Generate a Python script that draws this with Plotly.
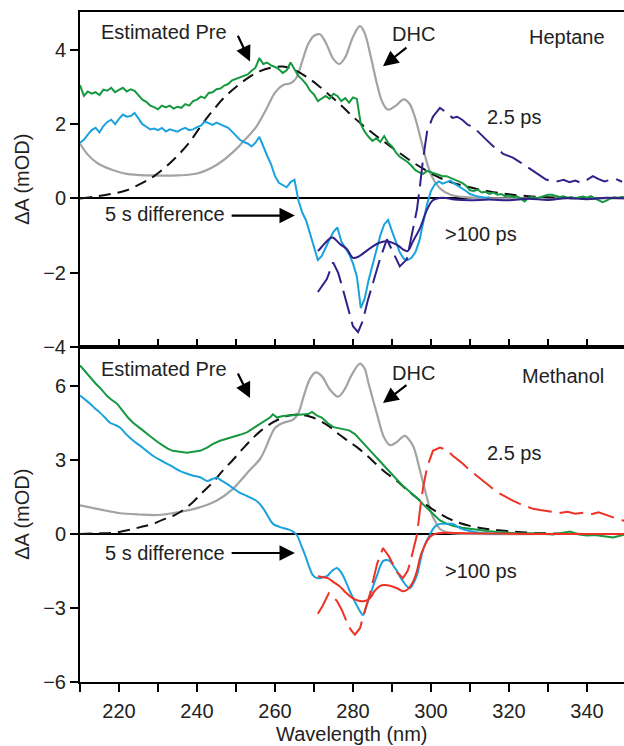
import plotly.graph_objects as go

# ---------------- Heptane (upper panel) ----------------
# noisy steady-state spectra on a 1 nm grid
green_hep_wl = list(range(210, 351))
green_hep = [
    3.05, 2.76, 2.88, 2.82, 2.86, 2.78, 2.93, 2.90, 2.98, 2.86,
    2.92, 2.98, 2.88, 2.94, 2.90, 2.78, 2.66, 2.60, 2.50, 2.46,
    2.40, 2.50, 2.45, 2.50, 2.42, 2.47, 2.44, 2.54, 2.50, 2.62,
    2.66, 2.74, 2.70, 2.84, 2.86, 2.94, 2.96, 3.04, 3.08, 3.18,
    3.22, 3.28, 3.30, 3.34, 3.44, 3.52, 3.78, 3.62, 3.66, 3.58,
    3.54, 3.48, 3.38, 3.45, 3.66, 3.48, 3.30, 3.20, 3.08, 2.90,
    2.80, 2.62, 2.70, 2.76, 2.68, 2.82, 2.76, 2.62, 2.70, 2.58,
    2.72, 2.68, 2.00, 1.80, 1.66, 1.55, 1.62, 1.52, 1.68, 1.50,
    1.40, 1.24, 1.12, 1.06, 0.98, 0.88, 0.76, 0.70, 0.66, 0.74,
    0.70, 0.68, 0.64, 0.60, 0.60, 0.55, 0.52, 0.46, 0.42, 0.34,
    0.22, 0.20, 0.24, 0.16, 0.18, 0.12, 0.16, 0.10, 0.12, 0.06,
    0.08, 0.04, 0.06, 0.00, -0.08, 0.02, 0.04, 0.00, 0.04, 0.06,
    0.10, 0.10, 0.06, 0.04, 0.06, 0.02, 0.04, 0.00, 0.03, 0.05,
    0.02, 0.06, 0.00, -0.04, -0.10, -0.06, 0.00, 0.03, 0.02, 0.04, 0.02,
]

diff_hep_wl = list(range(210, 316))
diff_hep = [
    1.50, 1.58, 1.72, 1.84, 1.90, 1.78, 1.95, 2.06, 2.12, 2.00,
    2.14, 2.26, 2.20, 2.22, 2.30, 2.14, 2.00, 1.93, 1.86, 1.88,
    1.84, 1.90, 1.80, 1.86, 1.84, 1.80, 1.86, 1.90, 1.84, 1.86,
    1.92, 1.96, 2.07, 2.02, 1.98, 2.04, 2.00, 1.95, 1.90, 1.80,
    1.70, 1.58, 1.52, 1.48, 1.40, 1.50, 1.66, 1.38, 1.15, 0.92,
    0.60, 0.42, 0.36, 0.30, 0.44, 0.50, -0.05, -0.38, -0.60, -0.95,
    -1.35, -1.66, -1.55, -1.30, -1.10, -0.90, -0.78, -1.15, -1.32, -1.50,
    -1.75, -2.10, -2.95, -2.70, -2.20, -1.80, -1.45, -1.00, -0.70, -0.58,
    -0.88, -1.15, -1.45, -1.62, -1.66, -1.60, -1.45, -1.15, -0.60, -0.15,
    0.20, 0.38, 0.46, 0.40, 0.44, 0.48, 0.40, 0.34, 0.26, 0.20,
    0.12, 0.08, 0.05, 0.04, 0.02, 0.03,
]

dhc_hep_wl = [210, 212, 214.6, 218, 222, 228, 235, 240, 245, 250, 252, 255, 258,
              260, 262, 264, 265.5, 267, 268.5, 270, 271.5, 273, 275, 276.5, 278,
              280, 281.8, 283, 284.5, 286, 287.5, 289, 291, 293, 294.5, 296, 297.5,
              299, 300, 301, 302.5, 305, 308, 312, 320, 335, 350]
dhc_hep = [1.48, 1.18, 0.94, 0.78, 0.66, 0.62, 0.62, 0.67, 0.90, 1.32, 1.55, 1.90, 2.45,
           2.85, 3.05, 3.10, 3.25, 3.70, 4.15, 4.38, 4.42, 4.20, 3.75, 3.62, 3.80,
           4.35, 4.64, 4.45, 3.85, 3.15, 2.60, 2.39, 2.50, 2.67, 2.55, 2.15, 1.55,
           0.95, 0.65, 0.45, 0.25, 0.10, 0.04, 0.01, 0.0, 0.0, 0.0]

pre_hep_wl = [210, 214, 218, 222, 226, 229, 232, 235, 238, 241, 244, 247, 250, 253,
              256, 259, 262, 265, 268, 271, 274, 277, 280, 283, 286, 289, 292, 295,
              298, 301, 304, 308, 312, 316, 320, 325, 330, 335, 340]
pre_hep = [0.0, 0.05, 0.12, 0.22, 0.42, 0.60, 0.85, 1.15, 1.50, 1.95, 2.36, 2.72, 3.0, 3.24,
           3.42, 3.52, 3.55, 3.46, 3.28, 3.05, 2.78, 2.5, 2.2, 1.93, 1.68, 1.45, 1.22, 1.0,
           0.8, 0.62, 0.48, 0.35, 0.25, 0.17, 0.11, 0.06, 0.03, 0.01, 0.0]

late_hep_wl = [271, 272, 273.3, 274.7, 276.7, 278.5, 280, 281.5, 284, 286.6, 288.5,
               291.3, 292.8, 294, 295.4, 297.2, 299, 300.5, 303, 306, 310, 315, 320,
               325, 330, 335, 340, 345, 350]
late_hep = [-1.42, -1.3, -1.15, -1.05, -1.23, -1.37, -1.6, -1.56, -1.37, -1.2, -1.15,
            -1.25, -1.37, -1.42, -1.15, -0.8, -0.3, -0.05, 0.02, -0.03, -0.05, -0.03,
            -0.05, -0.01, -0.04, 0.01, -0.02, 0.02, 0.0]

early_hep_wl = [271, 273.3, 274.9, 276.2, 277.4, 278.8, 280, 281.3, 282.5, 283.8, 285.1,
                286.9, 288.7, 290.3, 292, 293.8, 295.4, 296.4, 297.2, 297.9, 299, 300.5,
                302.3, 304, 305.5, 306.7, 308, 309.5, 310.8, 312, 313.3, 314.5, 316,
                317.5, 318.5, 320, 321, 322.5, 323.5, 325, 326.5, 328, 329.5, 331,
                332.5, 334, 335.5, 337, 338.5, 340, 341.5, 343, 344.5, 346, 347.5, 349]
early_hep = [-2.52, -2.17, -1.72, -2.0, -2.44, -3.0, -3.44, -3.6, -3.3, -2.75, -2.26,
             -1.64, -1.1, -1.45, -1.83, -1.64, -0.75, -0.3, 0.35, 1.0, 1.8, 2.2,
             2.44, 2.31, 2.17, 2.2, 2.12, 1.98, 1.93, 1.8, 1.66, 1.55, 1.4,
             1.3, 1.2, 1.15, 1.1, 1.0, 0.93, 0.82, 0.72, 0.6, 0.51, 0.47,
             0.46, 0.5, 0.44, 0.48, 0.42, 0.5, 0.6, 0.52, 0.46, 0.5, 0.52, 0.45]

# ---------------- Methanol (lower panel) ----------------
green_met_wl = [210, 211.5, 212.6, 214, 215.1, 216.9, 218, 219.5, 221, 222.3, 223.6, 225,
                226.2, 227.5, 228.7, 230, 231.3, 232.5, 233.8, 235.5, 237.4, 239, 240.8,
                242.6, 244, 245.9, 247.5, 249.2, 251, 252.8, 254.5, 256.2, 257.5, 258.7,
                259.5, 260.5, 262, 263.8, 265.5, 267.2, 268.5, 269.5, 270.8, 272, 273.5,
                275, 277.4, 279, 280.5, 282, 283.5, 285, 286.5, 288, 289.5, 291, 292.8,
                294.5, 296.4, 298, 299.7, 301, 302.3, 304, 305.6, 308, 310, 312, 314.4,
                317, 320, 322.8, 326, 329, 331.3, 333.5, 335.6, 338, 340, 342, 344,
                346.7, 349.5]
green_met = [6.83, 6.55, 6.34, 6.1, 5.93, 5.6, 5.45, 5.28, 4.98, 4.72, 4.51, 4.35,
             4.19, 4.02, 3.86, 3.72, 3.58, 3.46, 3.37, 3.32, 3.29, 3.33, 3.37,
             3.5, 3.64, 3.78, 3.85, 3.92, 4.02, 4.12, 4.3, 4.45, 4.6, 4.72,
             4.85, 4.72, 4.78, 4.8, 4.82, 4.84, 4.86, 4.95, 4.8, 4.72, 4.5,
             4.33, 4.25, 4.2, 4.05, 3.78, 3.55, 3.28, 3.02, 2.75, 2.5, 2.25, 1.95,
             1.72, 1.46, 1.2, 0.95, 0.72, 0.55, 0.42, 0.33, 0.25, 0.2, 0.15, 0.12,
             0.08, 0.04, 0.02, 0.03, 0.0, -0.02, 0.04, 0.1, -0.02, -0.06, -0.04, -0.08,
             -0.14, -0.03]

diff_met_wl = [210, 211.3, 212.6, 213.8, 215.1, 216.4, 217.7, 219, 220.3, 221.5, 222.8,
               224, 225.4, 227, 228.7, 230.5, 232.3, 234, 235.6, 237.3, 239, 240.8,
               242.6, 243.8, 245.1, 246.4, 247.7, 249.3, 251, 252.7, 254.4, 255.6,
               256.9, 258.2, 259.5, 261.3, 263.1, 264.4, 265.6, 266.7, 267.7, 268.7,
               269.7, 270.6, 271.5, 272.4, 273.3, 274.6, 275.9, 276.7, 277.4, 278.3,
               279.2, 280.5, 281.8, 282.6, 283.5, 284.4, 285.3, 286.2, 287, 287.7,
               288.6, 289.5, 290.4, 291.3, 292, 292.8, 293.7, 294.6, 295.5, 296.4,
               297.2, 297.9, 298.8, 299.7, 300.5, 301.4, 302.3, 303.2, 304.1, 305.6,
               306.5, 307.4, 308.7, 310, 312, 314, 318]
diff_met = [5.61, 5.45, 5.28, 5.1, 4.92, 4.72, 4.51, 4.42, 4.31, 4.1, 3.9,
            3.74, 3.58, 3.38, 3.17, 3.0, 2.85, 2.7, 2.56, 2.45, 2.36, 2.3,
            2.15, 2.22, 2.28, 2.15, 2.03, 1.85, 1.67, 1.55, 1.42, 1.3,
            1.06, 0.72, 0.41, 0.28, 0.2, 0.12, -0.04, -0.45, -0.85, -1.3,
            -1.67, -1.78, -1.79, -1.74, -1.71, -1.5, -1.38, -1.5, -1.67, -1.98,
            -2.32, -2.75, -3.13, -3.29, -2.9, -2.48, -2.05, -1.67, -1.3, -1.1,
            -1.05, -1.1, -1.3, -1.5, -1.72, -1.91, -2.1, -2.2, -2.0, -1.67,
            -1.15, -0.69, -0.3, -0.04, 0.2, 0.35, 0.41, 0.42, 0.41, 0.41,
            0.33, 0.24, 0.17, 0.12, 0.06, 0.03, 0.01]

dhc_met_wl = [210, 215, 220, 225, 230, 235, 240, 245, 249, 253.6, 256.2, 257.5, 258.7,
              260, 262, 264.6, 266, 267.2, 269, 270.5, 272, 274.1, 276.2, 278, 279.5,
              281.8, 283, 284, 286.2, 288, 289.5, 291, 293.3, 294.5, 295.6, 297.2, 299,
              300.2, 301.5, 302.3, 304, 306, 310, 330, 350]
dhc_met = [1.16, 1.0, 0.85, 0.79, 0.77, 0.88, 1.05, 1.35, 1.8, 2.6, 3.05, 3.45, 3.9,
           4.3, 4.5, 4.63, 4.9, 5.5, 6.3, 6.55, 6.4, 5.85, 5.57, 5.9, 6.4,
           6.91, 6.7, 6.1, 4.84, 3.9, 3.6, 3.7, 3.98, 3.8, 3.5, 2.56, 1.46,
           0.8, 0.4, 0.2, 0.07, 0.02, 0.0, 0.0, 0.0]

pre_met_wl = [210, 214, 218, 220, 223.6, 226, 228.7, 231, 233.8, 236, 239, 241.5, 244.1,
              246.5, 249.2, 252, 254.4, 256.5, 258.7, 261, 263.1, 265, 266.4, 268,
              269.7, 272, 274, 275.9, 278.5, 281, 283.6, 286.2, 288.7, 291.3, 293.8,
              296.4, 299.7, 302.3, 305.6, 310, 314.4, 319.5, 325.4, 331.3, 340]
pre_met = [0.0, 0.02, 0.04, 0.08, 0.2, 0.3, 0.41, 0.56, 0.73, 0.92, 1.3, 1.7, 2.1,
           2.55, 3.0, 3.5, 3.9, 4.2, 4.45, 4.65, 4.78, 4.83, 4.84, 4.8,
           4.72, 4.55, 4.35, 4.1, 3.8, 3.52, 3.18, 2.8, 2.45, 2.15, 1.8,
           1.46, 1.08, 0.82, 0.55, 0.33, 0.2, 0.12, 0.05, 0.02, 0.0]

late_met_wl = [271, 272.3, 273.5, 275, 276.5, 278, 279.2, 280.5, 281.8, 283, 284.4,
               285.5, 286.9, 288, 289.5, 291.3, 292.8, 294, 295.2, 296.4, 297.2, 298,
               299, 299.7, 300.5, 301.5, 302.3, 304, 306, 310, 315, 320, 330, 340, 350]
late_met = [-1.71, -1.75, -1.79, -1.95, -2.11, -2.35, -2.52, -2.65, -2.72, -2.72, -2.6,
            -2.32, -2.11, -2.07, -2.1, -2.2, -2.32, -2.25, -2.0, -1.5, -0.95, -0.6,
            -0.28, -0.12, -0.03, 0.02, 0.04, 0.05, 0.04, 0.03, 0.02, 0.01, 0.0, 0.0, 0.0]

early_met_wl = [271, 272.3, 273.8, 275, 275.9, 277.2, 278.5, 279.5, 280.5, 281.8, 283,
                284.4, 286.2, 287.7, 289.2, 290.3, 291.3, 292.8, 294, 294.6, 295.5,
                296.4, 297.2, 298, 299, 300.5, 302.3, 304.1, 305.6, 307, 308.2, 309.5,
                310.8, 312, 313.3, 314.6, 315.9, 317.5, 319.5, 321, 322.8, 324.5,
                326.2, 328, 329.7, 331.3, 333, 335, 337, 339, 341, 343, 345, 347, 349, 350]
early_met = [-3.23, -2.89, -2.4, -2.55, -2.72, -3.1, -3.6, -3.9, -4.08, -3.82, -3.13,
             -2.4, -1.2, -0.57, -0.9, -1.25, -1.55, -1.79, -1.5, -1.2, -0.6,
             -0.04, 1.0, 1.9, 2.7, 3.37, 3.5, 3.41, 3.17, 3.0, 2.85, 2.65,
             2.48, 2.32, 2.15, 2.0, 1.83, 1.65, 1.46, 1.35, 1.22, 1.12,
             1.02, 0.97, 0.93, 0.88, 0.85, 0.9, 0.82, 0.86, 0.8, 0.88, 0.76, 0.66, 0.56, 0.5]

x_ticks = list(range(210, 351, 10))
x_ticktext = [str(v) if v % 20 == 0 else "" for v in x_ticks]

GREEN = "#16983f"
BLUE = "#1aa2dc"
GRAY = "#a3a3a3"
PURPLE = "#30208a"
RED = "#ee3225"
FONT = "Arial, Liberation Sans, sans-serif"

fig = go.Figure()


def add(xs, ys, color, xa, ya, dash=None, width=2.0, shape="linear"):
    fig.add_trace(go.Scatter(
        x=xs, y=ys, mode="lines", xaxis=xa, yaxis=ya,
        line=dict(color=color, width=width, dash=dash, shape=shape),
        hoverinfo="skip"))


# upper panel traces
add(dhc_hep_wl, dhc_hep, GRAY, "x2", "y2", width=2.2, shape="spline")
add(pre_hep_wl, pre_hep, "#111111", "x2", "y2", dash="12px,7px", shape="spline")
add(green_hep_wl, green_hep, GREEN, "x2", "y2")
add(diff_hep_wl, diff_hep, BLUE, "x2", "y2")
add(late_hep_wl, late_hep, PURPLE, "x2", "y2", shape="spline")
add(early_hep_wl, early_hep, PURPLE, "x2", "y2", dash="24px,8px")

# lower panel traces
add(dhc_met_wl, dhc_met, GRAY, "x", "y", width=2.2, shape="spline")
add(pre_met_wl, pre_met, "#111111", "x", "y", dash="12px,7px", shape="spline")
add(green_met_wl, green_met, GREEN, "x", "y")
add(diff_met_wl, diff_met, BLUE, "x", "y", shape="spline")
add(late_met_wl, late_met, RED, "x", "y", shape="spline")
add(early_met_wl, early_met, RED, "x", "y", dash="24px,8px")

axis_common = dict(showline=True, linewidth=2, linecolor="black", showgrid=False,
                   tickcolor="black", tickwidth=2, ticklen=8)

fig.update_layout(
    width=624, height=746,
    margin=dict(l=80, r=0, t=12, b=64),
    paper_bgcolor="white", plot_bgcolor="white",
    showlegend=False,
    font=dict(family=FONT, size=20, color="#222222"),
    xaxis=dict(domain=[0, 1], anchor="y", range=[210, 349.5],
               tickvals=x_ticks, ticktext=x_ticktext, ticks="outside",
               ticklabelstandoff=2,
               mirror=True, zeroline=False, tickfont=dict(size=20),
               **axis_common),
    xaxis2=dict(domain=[0, 1], anchor="y2", matches="x",
                tickvals=x_ticks, ticks="inside", showticklabels=False,
                mirror=True, zeroline=False, **axis_common),
    yaxis=dict(domain=[0, 0.5], anchor="x", range=[-6, 7.58],
               tickvals=[-6, -3, 0, 3, 6], ticks="outside",
               zeroline=True, zerolinecolor="black", zerolinewidth=1.8,
               tickfont=dict(size=20), **axis_common),
    yaxis2=dict(domain=[0.5, 1], anchor="x2", range=[-4, 5.02],
                tickvals=[-4, -2, 0, 2, 4], ticks="outside",
                zeroline=True, zerolinecolor="black", zerolinewidth=1.8,
                tickfont=dict(size=20), **axis_common),
)

ann = []


def label(text, x, y, xref, yref, **kw):
    ann.append(dict(text=text, x=x, y=y, xref=xref, yref=yref, showarrow=False,
                    xanchor="center", yanchor="middle",
                    font=dict(size=20, family=FONT, color="#222222"), **kw))


def arrow(x0, y0, x1, y1, xref, yref):
    ann.append(dict(text="", x=x1, y=y1, ax=x0, ay=y0, xref=xref, yref=yref,
                    axref=xref, ayref=yref, showarrow=True, arrowhead=2,
                    arrowsize=1.4, arrowwidth=2.2, arrowcolor="black",
                    standoff=0, startstandoff=0))


# upper panel labels
label("Estimated Pre", 231.5, 4.47, "x2", "y2")
arrow(250.3, 4.42, 253.6, 3.69, "x2", "y2")
label("DHC", 295.4, 4.42, "x2", "y2")
arrow(294.1, 4.09, 287.7, 3.56, "x2", "y2")
label("Heptane", 334.9, 4.36, "x2", "y2")
label("2.5 ps", 321.3, 2.2, "x2", "y2")
label(">100 ps", 312.8, -0.97, "x2", "y2")
label("5 s difference", 231.8, -0.43, "x2", "y2")
arrow(248.5, -0.46, 265.1, -0.46, "x2", "y2")

# lower panel labels
label("Estimated Pre", 231.5, 6.69, "x", "y")
arrow(250.3, 6.57, 253.6, 5.51, "x", "y")
label("DHC", 295.4, 6.53, "x", "y")
arrow(294.1, 6.08, 287.7, 5.31, "x", "y")
label("Methanol", 333.8, 6.4, "x", "y")
label("2.5 ps", 321.3, 3.28, "x", "y")
label(">100 ps", 312.8, -1.5, "x", "y")
label("5 s difference", 231.8, -0.77, "x", "y")
arrow(248.5, -0.77, 265.1, -0.77, "x", "y")

# axis titles
label("\u0394A (mOD)", -0.108, 0.75, "paper", "paper", textangle=-90)
label("\u0394A (mOD)", -0.108, 0.25, "paper", "paper", textangle=-90)
label("Wavelength (nm)", 0.5, -0.077, "paper", "paper")

fig.update_layout(annotations=ann)

fig.write_html("out.html")
